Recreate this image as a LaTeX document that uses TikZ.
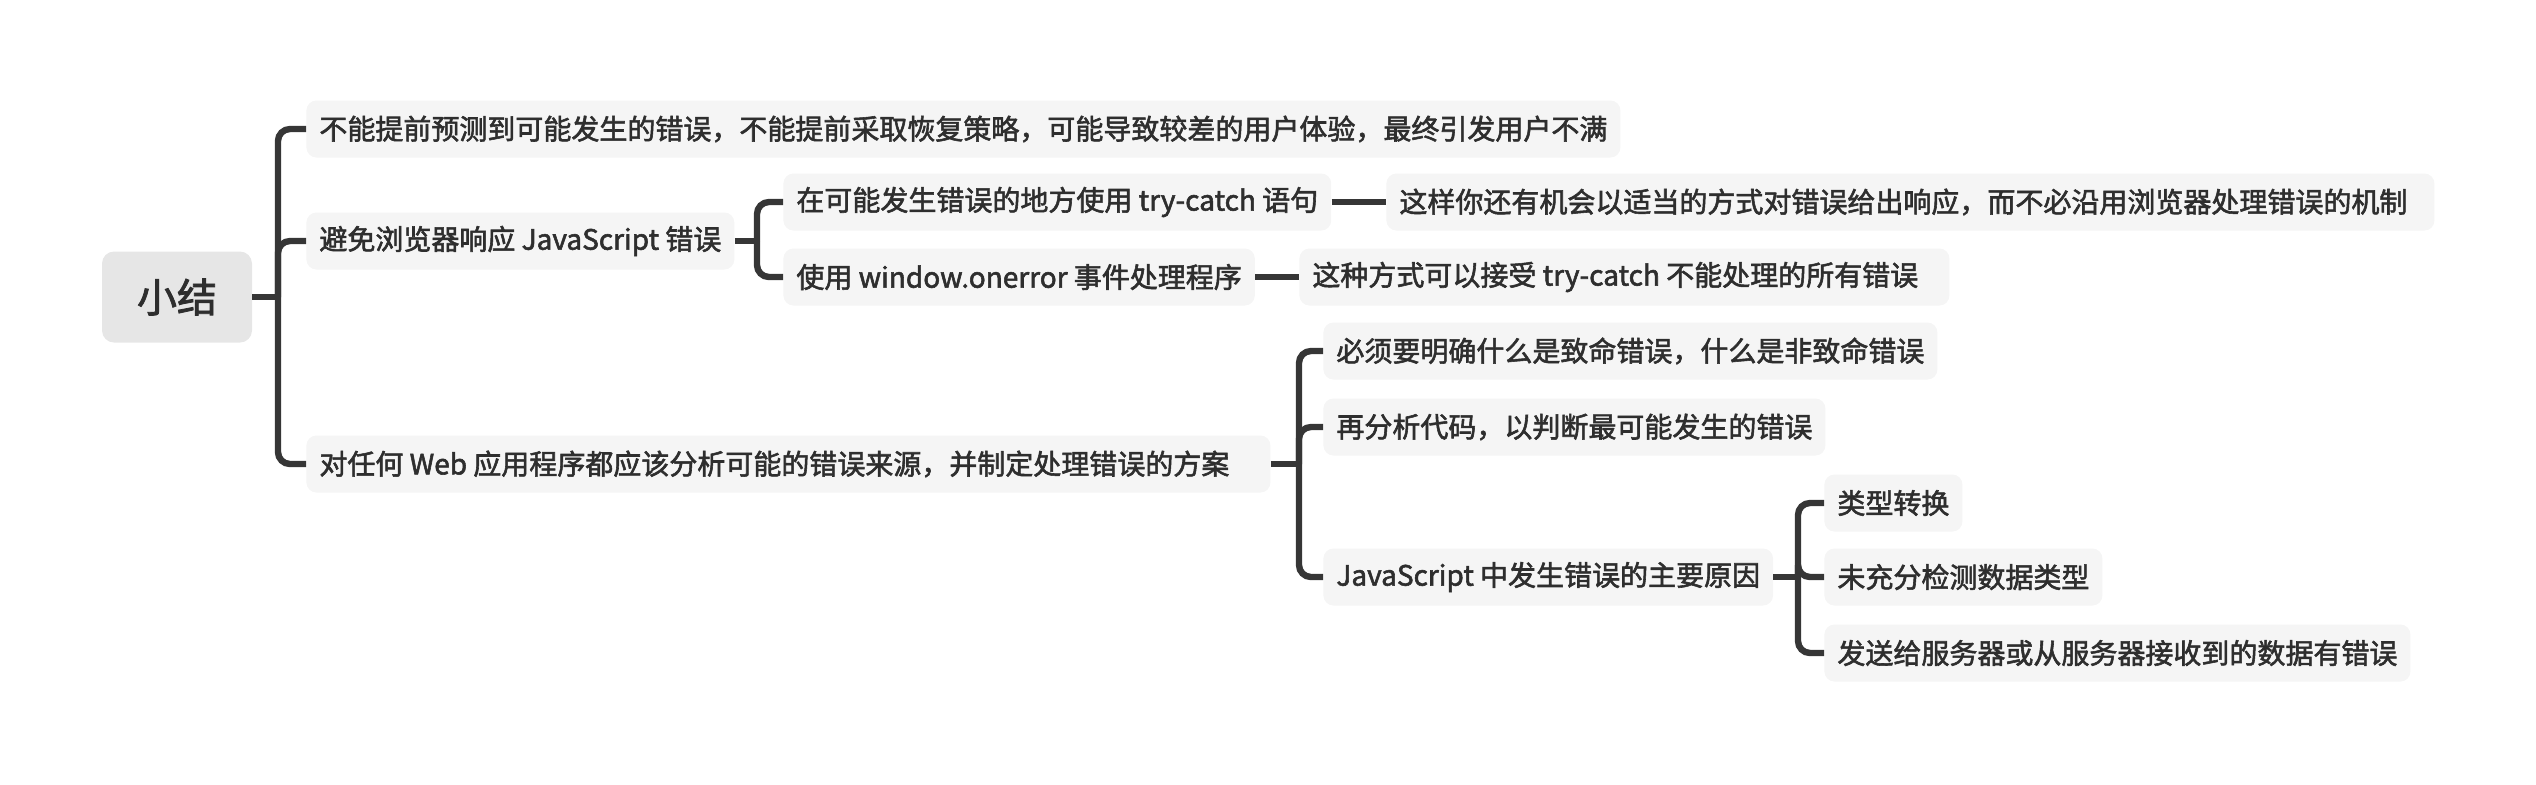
\documentclass[tikz,border=0pt]{standalone}
\usepackage{fontspec}
\setmainfont{Noto Sans CJK SC}[FakeBold=2.0]
\definecolor{linegray}{HTML}{363636}
\definecolor{boxgray}{HTML}{F5F5F5}
\definecolor{rootgray}{HTML}{E6E6E6}
\definecolor{textgray}{HTML}{2E2E2E}
\newcommand{\fillto}[2]{\makebox[#1][l]{#2}}
\tikzset{
  topic/.style={fill=boxgray, rounded corners=5pt, text=textgray, anchor=west,
    font=\fontsize{14}{16}\selectfont, inner xsep=6.5pt, minimum height=28.5pt},
  root/.style={fill=rootgray, rounded corners=6pt, text=textgray,
    font=\fontsize{20}{24}\selectfont, minimum width=75pt, minimum height=45.5pt},
  branch/.style={draw=linegray, line width=3.2pt},
  elbow/.style={branch, rounded corners=6pt}
}
\begin{document}
\begin{tikzpicture}[x=0.5pt, y=-0.5pt]
  \useasboundingbox (0,0) rectangle (2536,784);

  \node[root] (sum) at (177,297) {小结};

  \node[topic] (a) at (306,129) {不能提前预测到可能发生的错误，不能提前采取恢复策略，可能导致较差的用户体验，最终引发用户不满};
  \node[topic] (b) at (306,241) {避免浏览器响应 JavaScript 错误};
  \node[topic] (c) at (306,464) {\fillto{469pt}{对任何 Web 应用程序都应该分析可能的错误来源，并制定处理错误的方案}};

  \node[topic] (b1) at (783,202) {在可能发生错误的地方使用 try-catch 语句};
  \node[topic] (b2) at (783,277) {使用 window.onerror 事件处理程序};
  \node[topic] (b1a) at (1386,202) {\fillto{511pt}{这样你还有机会以适当的方式对错误给出响应，而不必沿用浏览器处理错误的机制}};
  \node[topic] (b2a) at (1299,277) {\fillto{312pt}{这种方式可以接受 try-catch 不能处理的所有错误}};

  \node[topic] (c1) at (1323,351) {必须要明确什么是致命错误，什么是非致命错误};
  \node[topic] (c2) at (1323,427) {再分析代码，以判断最可能发生的错误};
  \node[topic] (c3) at (1323,577) {JavaScript 中发生错误的主要原因};

  \node[topic] (c3a) at (1824,503) {类型转换};
  \node[topic] (c3b) at (1824,577) {未充分检测数据类型};
  \node[topic] (c3c) at (1824,653) {发送给服务器或从服务器接收到的数据有错误};

  % branches
  \draw[branch] (sum.east) -- (278,297) coordinate (j0);
  \foreach \n in {a,b,c} \draw[elbow] (j0) |- (\n.west);

  \draw[branch] (b.east) -- (757,241) coordinate (jb);
  \foreach \n in {b1,b2} \draw[elbow] (jb) |- (\n.west);
  \draw[branch] (b1.east) -- (b1a.west);
  \draw[branch] (b2.east) -- (b2a.west);

  \draw[branch] (c.east) -- (1299,464) coordinate (jc);
  \foreach \n in {c1,c2,c3} \draw[elbow] (jc) |- (\n.west);

  \draw[branch] (c3.east) -- (1798,577) coordinate (jd);
  \foreach \n in {c3a,c3b,c3c} \draw[elbow] (jd) |- (\n.west);
\end{tikzpicture}
\end{document}
